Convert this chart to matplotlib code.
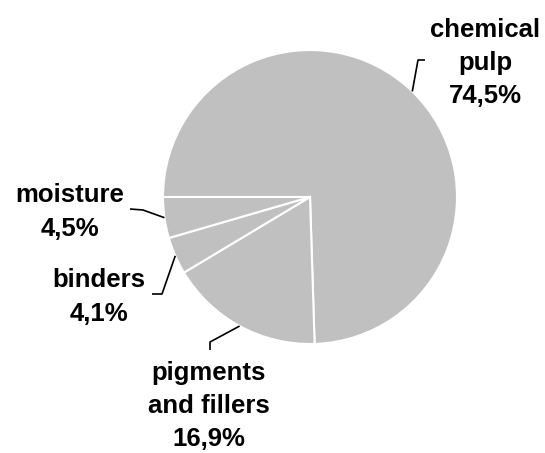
import numpy as np
import matplotlib
matplotlib.use('Agg')
import matplotlib.pyplot as plt

plt.rcParams['font.family'] = ['Liberation Sans', 'DejaVu Sans']

labels = ['chemical\npulp', 'pigments\nand fillers', 'binders', 'moisture']
shares = [74.5, 16.9, 4.1, 4.5]

# label text position and leader elbow (pixel coords, y down)
text_pos = [(485, 63), (209, 406), (99, 297), (70, 212)]
elbows = [[(418, 60), (425, 60)], [(210, 342), (210, 350)],
          [(162, 294), (152, 294)], [(143, 210), (130, 209)]]

W, H = 545, 453
CX, CY, R = 310, 197, 147

fig = plt.figure(figsize=(W / 100, H / 100), dpi=100)
ax = fig.add_axes([0, 0, 1, 1])
wedges, _ = ax.pie(shares, startangle=180, counterclock=False,
                   colors=['#c0c0c0'] * 4, center=(CX, H - CY), radius=R,
                   wedgeprops=dict(edgecolor='white', linewidth=1.5))
ax.set_xlim(0, W)
ax.set_ylim(0, H)
ax.axis('off')

for w, lab, val, (tx, ty), elb in zip(wedges, labels, shares, text_pos, elbows):
    mid = np.deg2rad((w.theta1 + w.theta2) / 2)
    x0 = CX + R * np.cos(mid)
    y0 = (H - CY) + R * np.sin(mid)
    xs = [x0] + [p[0] for p in elb]
    ys = [y0] + [H - p[1] for p in elb]
    ax.plot(xs, ys, color='black', lw=1.2, solid_capstyle='butt')
    txt = '%s\n%s%%' % (lab, ('%.1f' % val).replace('.', ','))
    ax.text(tx, H - ty, txt, ha='center', va='center', fontsize=18.5,
            fontweight='bold', linespacing=1.48, color='black')

fig.savefig('out.png', dpi=100)
